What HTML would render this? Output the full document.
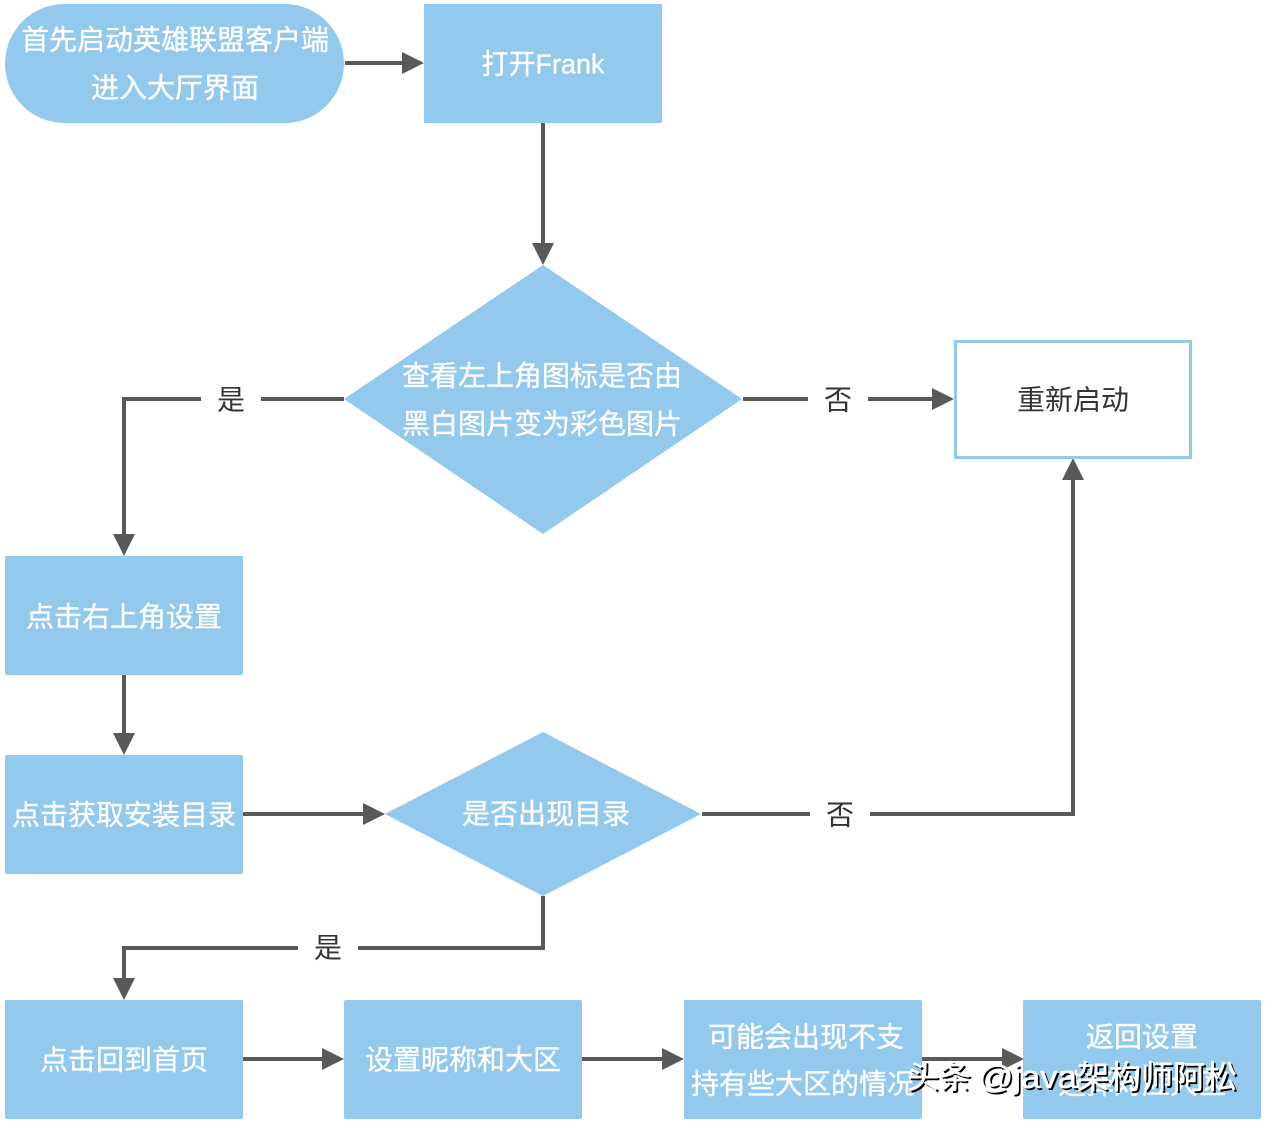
<!DOCTYPE html>
<html><head><meta charset="utf-8"><style>
html,body{margin:0;padding:0;background:#fff;width:1266px;height:1123px;overflow:hidden}
svg{display:block}
text{font-family:"Liberation Sans","Noto Sans CJK SC",sans-serif}
.w{fill:#fff;stroke:#fff;stroke-width:.35;font-size:28px;text-anchor:middle;dominant-baseline:central}
.k{fill:#333;font-size:28px;text-anchor:middle;dominant-baseline:central}
.l{fill:none;stroke:#595959;stroke-width:4}
.a{fill:#595959}
.b{fill:#92c9ec}
.ws{fill:#000;font-size:32px}
.wf{fill:#fff;stroke:#fff;stroke-width:.5;font-size:32px}
</style></head><body>
<svg width="1266" height="1123" viewBox="0 0 1266 1123" xmlns="http://www.w3.org/2000/svg">
<rect width="1266" height="1123" fill="#fff"/>
<!-- connectors -->
<path class="l" d="M345 63H404M543 123V244M344 399H261M201 399H124V536M124 675V735M743 399H808M868 399H934M243 814H364M702 814H810M870 814H1073V479M543 896V948H358M298 948H124V980M243 1059H324M582 1059H664M922 1059H1004"/>
<path class="a" d="M424 63L402 52V74ZM543 265L532 243H554ZM124 556L113 534H135ZM124 755L113 733H135ZM954 399L932 388V410ZM385 814L363 803V825ZM1073 458L1062 480H1084ZM124 1000L113 978H135ZM344 1059L322 1048V1070ZM684 1059L662 1048V1070ZM1024 1059L1002 1048V1070Z"/>
<!-- nodes -->
<rect class="b" x="5" y="4" width="339" height="119" rx="59.5"/>
<rect class="b" x="424" y="4" width="238" height="119" rx="1"/>
<polygon class="b" points="543,265 742,399 543,534 344,399"/>
<rect x="955.500" y="341.500" width="235" height="116" fill="#fff" stroke="#92c9ec" stroke-width="3"/>
<rect class="b" x="5" y="556" width="238" height="119" rx="2"/>
<rect class="b" x="5" y="755" width="238" height="119" rx="2"/>
<polygon class="b" points="543,732 701,814 543,896 385,814"/>
<rect class="b" x="5" y="1000" width="238" height="119" rx="2"/>
<rect class="b" x="344" y="1000" width="238" height="119" rx="2"/>
<rect class="b" x="684" y="1000" width="238" height="119" rx="2"/>
<rect class="b" x="1023" y="1000" width="238" height="119" rx="2"/>
<!-- labels -->
<text class="w" x="175" y="40">首先启动英雄联盟客户端</text>
<text class="w" x="175" y="88">进入大厅界面</text>
<text class="w" x="543" y="64" textLength="123" lengthAdjust="spacingAndGlyphs">打开Frank</text>
<text class="w" x="542" y="376">查看左上角图标是否由</text>
<text class="w" x="542" y="424">黑白图片变为彩色图片</text>
<text class="k" x="1073" y="400">重新启动</text>
<text class="k" x="231" y="400">是</text>
<text class="k" x="838" y="400">否</text>
<text class="w" x="124" y="617">点击右上角设置</text>
<text class="w" x="124" y="815">点击获取安装目录</text>
<text class="w" x="546" y="814">是否出现目录</text>
<text class="k" x="840" y="815">否</text>
<text class="k" x="328" y="948">是</text>
<text class="w" x="124" y="1060">点击回到首页</text>
<text class="w" x="463" y="1060">设置昵称和大区</text>
<text class="w" x="806" y="1037">可能会出现不支</text>
<text class="w" x="803" y="1084">持有些大区的情况</text>
<text class="w" x="1142" y="1037">返回设置</text>
<text class="w" x="1142" y="1084">选择对应大区</text>
<!-- watermark -->
<text class="ws" x="909" y="1090">头条</text>
<text class="ws" x="980" y="1090" textLength="99" lengthAdjust="spacingAndGlyphs">@java</text>
<text class="ws" x="1079" y="1090">架构师阿松</text>
<text class="wf" x="907" y="1088">头条</text>
<text class="wf" x="978" y="1088" textLength="99" lengthAdjust="spacingAndGlyphs">@java</text>
<text class="wf" x="1077" y="1088">架构师阿松</text>
</svg>
</body></html>
